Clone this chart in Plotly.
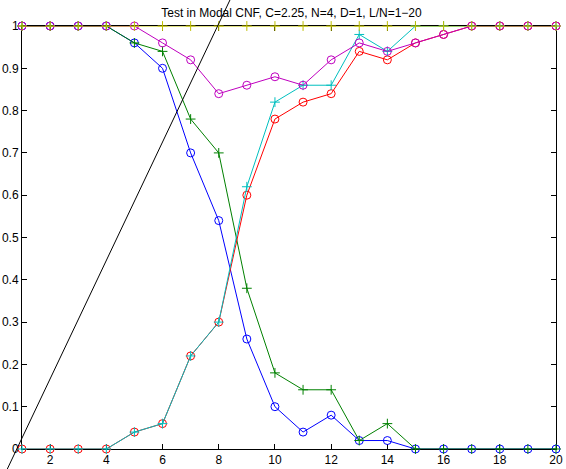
import plotly.graph_objects as go

x = list(range(1, 21))

blue_o = [1, 1, 1, 1, 0.96, 0.90, 0.70, 0.54, 0.26, 0.10, 0.04, 0.08, 0.02, 0.02, 0, 0, 0, 0, 0, 0]
green_plus = [1, 1, 1, 1, 0.96, 0.94, 0.78, 0.70, 0.38, 0.18, 0.14, 0.14, 0.02, 0.06, 0, 0, 0, 0, 0, 0]
red_o = [0, 0, 0, 0, 0.04, 0.06, 0.22, 0.30, 0.60, 0.78, 0.82, 0.84, 0.94, 0.92, 0.96, 0.98, 1, 1, 1, 1]
cyan_plus = [0, 0, 0, 0, 0.04, 0.06, 0.22, 0.30, 0.62, 0.82, 0.86, 0.86, 0.98, 0.94, 1, 1, 1, 1, 1, 1]
magenta_o = [1, 1, 1, 1, 1, 0.96, 0.92, 0.84, 0.86, 0.88, 0.86, 0.92, 0.96, 0.94, 0.96, 0.98, 1, 1, 1, 1]
yellow_plus = [1] * 20

# reference line (extends past the axes box)
line_x = [0.458, 8.46]
line_y = [-0.05, 1.07]

x_ticks = [2, 4, 6, 8, 10, 12, 14, 16, 18, 20]
y_ticks = [0, 0.1, 0.2, 0.3, 0.4, 0.5, 0.6, 0.7, 0.8, 0.9, 1]
y_tick_text = ["0", "0.1", "0.2", "0.3", "0.4", "0.5", "0.6", "0.7", "0.8", "0.9", "1"]

title = "Test in Modal CNF, C=2.25, N=4, D=1, L/N=1\u221220"

xr = [1, 20]
yr = [0, 1]

series = [
    (blue_o, "#0000ff", "circle-open", 8),
    (green_plus, "#008000", "cross-thin-open", 7),
    (red_o, "#ff0000", "circle-open", 8),
    (cyan_plus, "#00bfbf", "cross-thin-open", 7),
    (magenta_o, "#bf00bf", "circle-open", 8),
    (yellow_plus, "#bfbf00", "cross-thin-open", 7),
]

fig = go.Figure()
for ys, col, sym, sz in series:
    fig.add_trace(go.Scatter(
        x=x, y=ys, mode="lines+markers",
        line=dict(color=col, width=1),
        marker=dict(symbol=sym, size=sz, color=col, line=dict(color=col, width=1)),
        cliponaxis=False, showlegend=False,
    ))

# reference line in paper coordinates so it can extend outside the box
def px(v):
    return (v - xr[0]) / (xr[1] - xr[0])

def py(v):
    return (v - yr[0]) / (yr[1] - yr[0])

fig.add_shape(type="line", xref="paper", yref="paper",
              x0=px(line_x[0]), y0=py(line_y[0]), x1=px(line_x[1]), y1=py(line_y[1]),
              line=dict(color="#000000", width=1), layer="above")

font_family = "Liberation Sans, Arial, sans-serif"
axis_common = dict(
    showline=True, linecolor="#000000", linewidth=1, mirror="ticks",
    ticks="inside", ticklen=5, tickwidth=1, tickcolor="#000000",
    showgrid=False, zeroline=False, automargin=False, layer="below traces",
    tickfont=dict(family=font_family, size=12, color="#000000"),
)

fig.update_layout(
    width=566, height=469,
    margin=dict(l=22, r=10, t=26, b=20),
    paper_bgcolor="#ffffff", plot_bgcolor="#ffffff",
    title=dict(text=title, x=0.515, xanchor="center", y=0.973, yanchor="middle",
               font=dict(family=font_family, size=12, color="#000000")),
    xaxis=dict(range=xr, tickvals=x_ticks, **axis_common),
    yaxis=dict(range=yr, tickvals=y_ticks, ticktext=y_tick_text, **axis_common),
)

fig.write_html("out.html")
